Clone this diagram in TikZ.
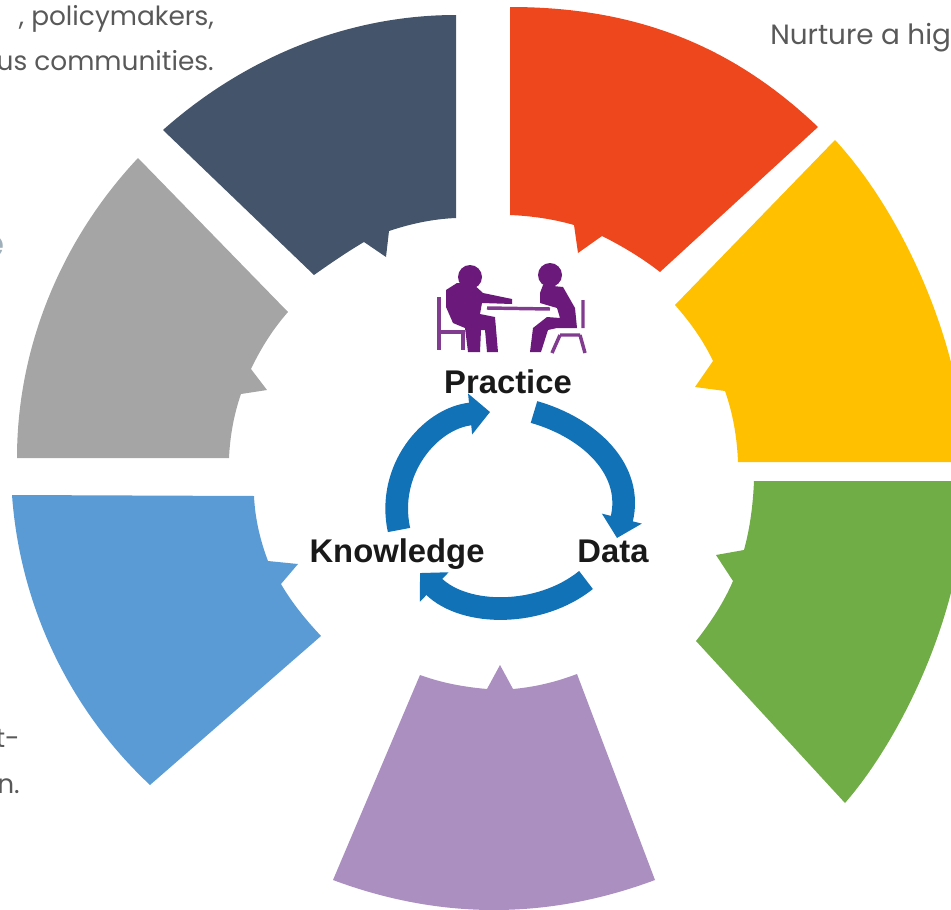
\documentclass[tikz,border=0pt]{standalone}
\usepackage{fontspec}
\setmainfont{Poppins}
\newfontfamily\labelfont{Liberation Sans}
\usetikzlibrary{arrows.meta}
\definecolor{navyseg}{HTML}{44546A}
\definecolor{orangeseg}{HTML}{EF471D}
\definecolor{yellowseg}{HTML}{FFC000}
\definecolor{greenseg}{HTML}{70AD47}
\definecolor{purpleseg}{HTML}{AB8FC0}
\definecolor{blueseg}{HTML}{5B9BD5}
\definecolor{grayseg}{HTML}{A5A5A5}
\definecolor{cyclearrow}{HTML}{1272B8}
\definecolor{iconpurple}{HTML}{6B1A7B}
\definecolor{cliptext}{HTML}{595959}
\definecolor{cutofftext}{HTML}{A0B0BA}
\tikzset{
  cliplabel/.style={inner sep=0pt, text=cliptext, font=\fontsize{19.8}{23}\selectfont},
  cyclelabel/.style={inner sep=0pt, anchor=base, text=black!90, font=\labelfont\bfseries\fontsize{24.6}{28}\selectfont},
  cycleline/.style={draw=cyclearrow, line width=17pt, -{Triangle[length=15pt, width=30pt]}},
  chairline/.style={draw=iconpurple!85, line width=2.6pt},
}
\begin{document}
\begin{tikzpicture}[x=0.75pt, y=-0.75pt]
\clip (0,0) rectangle (951,910);
% ring segments
\fill[navyseg] (456,15) .. controls (347,15) and (244,58) .. (163,130) -- (314,275)
    .. controls (331,263) and (347,252) .. (364,242) -- (386,257) -- (389,231)
    .. controls (410,224) and (432,219) .. (456,218) -- cycle;
\fill[orangeseg] (510,7) .. controls (632,7) and (730,43) .. (818,127) -- (660,272)
    .. controls (642,258) and (622,246) .. (602,236) -- (578,253) -- (574,225)
    .. controls (553,219) and (532,216) .. (510,215) -- cycle;
\fill[yellowseg] (835,140) .. controls (900,210) and (962,340) .. (966,462) -- (738,462)
    .. controls (737,437) and (733,414) .. (725,391) -- (695,387) -- (713,361)
    .. controls (703,340) and (690,322) .. (675,305) -- cycle;
\fill[greenseg] (754,481) .. controls (753,505) and (750,528) .. (744,550) -- (716,555) -- (733,581)
    .. controls (724,602) and (711,622) .. (696,641) -- (845,803)
    .. controls (900,740) and (966,610) .. (966,481) -- cycle;
\fill[purpleseg] (420,675) .. controls (442,683) and (464,687) .. (487,689) -- (500,665) -- (513,689)
    .. controls (535,687) and (556,682) .. (577,674) -- (655,880)
    .. controls (548,920) and (440,920) .. (333,880) -- cycle;
\fill[blueseg] (12,495) -- (254,496) .. controls (255,518) and (260,540) .. (268,561) -- (298,564) -- (281,584)
    .. controls (292,603) and (306,620) .. (321,636) -- (150,785)
    .. controls (69,709) and (20,606) .. (12,495) -- cycle;
\fill[grayseg] (17,458) .. controls (17,346) and (62,239) .. (138,158) -- (288,312)
    .. controls (273,329) and (261,348) .. (251,369) -- (267,390) -- (241,394)
    .. controls (234,414) and (230,436) .. (229,458) -- cycle;
% clipped texts of the slide
\node[cliplabel, anchor=base east] (policy) at (214,26) {, policymakers,};
\node[cliplabel, anchor=base east] (communities) at (214,70) {us communities.};
\node[cliplabel, anchor=base west, font=\fontsize{20.9}{24}\selectfont] (nurture) at (770,44) {Nurture a hig};
\node[cliplabel, anchor=base east, text=cutofftext, font=\bfseries\fontsize{29}{32}\selectfont] (cutoff) at (5,257) {e};
\node[cliplabel, anchor=base east] (hyphen) at (20,747) {t-};
\node[cliplabel, anchor=base east] (period) at (20,793) {n.};
% cycle labels
\node[cyclelabel] (practice) at (508,393) {Practice};
\node[cyclelabel] (knowledge) at (397,562) {Knowledge};
\node[cyclelabel] (data) at (613,562) {Data};
% cycle arrows
\coordinate (datastart) at (534,412);
\coordinate (dataend) at (617,538);
\coordinate (knowstart) at (586,580);
\coordinate (knowend) at (420,573);
\coordinate (pracstart) at (399,530);
\coordinate (pracend) at (490,412);
\draw[cycleline] (datastart) .. controls (590,428) and (634,470) .. (dataend);
\draw[cycleline] (knowstart) .. controls (540,617) and (465,617) .. (knowend);
\draw[cycleline] (pracstart) .. controls (386,470) and (430,418) .. (pracend);
% people at the table
\fill[iconpurple] (470,277) circle (12);
\fill[iconpurple] (550,275) circle (12);
\fill[iconpurple] (446,290) -- (457,283) -- (472,283) -- (483,293) -- (512,299) -- (512,304) -- (482,303)
    -- (480,314) -- (495,317) -- (498,352) -- (487,352) -- (485,330) -- (481,330) -- (480,352) -- (468,352)
    -- (465,328) -- (453,323) -- (446,307) -- cycle;
\fill[iconpurple] (540,293) -- (543,285) -- (563,287) -- (575,308) -- (577,328) -- (557,328) -- (548,330)
    -- (541,352) -- (530,352) -- (533,328) -- (547,317) -- (560,318) -- (557,308) -- (540,303) -- cycle;
\draw[chairline] (487,308) -- (550,309);
\draw[chairline] (439,297) -- (439,350) (439,332) -- (463,332) -- (463,350);
\draw[chairline] (583,300) -- (583,328) (560,335) -- (580,335) (560,335) -- (552,353) (580,335) -- (585,353);
\end{tikzpicture}
\end{document}
